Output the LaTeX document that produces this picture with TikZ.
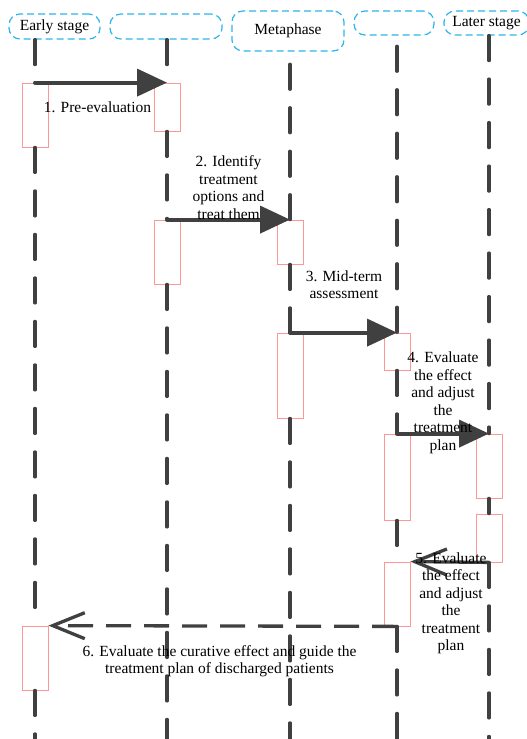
\documentclass[tikz,border=0pt]{standalone}
\usepackage{fontspec}
\setmainfont{Liberation Serif}
\usetikzlibrary{arrows.meta}
\usetikzlibrary{positioning}
\definecolor{headblue}{RGB}{45,180,235}
\definecolor{actpink}{RGB}{255,150,150}
\definecolor{lifegray}{RGB}{64,64,64}
\tikzset{stage/.style={draw=headblue, fill=white, line width=1.2pt, dash pattern=on 7pt off 4pt, rounded corners=11pt, inner sep=0pt, font=\fontsize{15.5}{17.5}\selectfont}}
\tikzset{act/.style={draw=actpink, fill=white, line width=0.8pt, minimum width=26pt, inner sep=0pt}}
\tikzset{life/.style={draw=lifegray, line width=3.3pt, dash pattern=on 25pt off 18.5pt, line cap=round}}
\tikzset{msg/.style={draw=lifegray, line width=4pt, line cap=round, -{Triangle[length=30pt,width=27pt]}}}
\tikzset{back/.style={draw=lifegray, line width=3.3pt, -{Straight Barb[length=32pt,width=26pt]}}}
\tikzset{lbl/.style={align=center, inner sep=0pt, font=\fontsize{15.5}{17.5}\selectfont}}

\begin{document}
\begin{tikzpicture}[x=1pt,y=-1pt]
\useasboundingbox (0,0) rectangle (527,739);

%stages
\node[stage,minimum width=91pt,minimum height=25pt] (early) at (54.5,26.5) {Early stage};
\node[stage,minimum width=112pt,minimum height=25pt] (stageb) at (166,26.5) {};
\node[stage,minimum width=112pt,minimum height=40pt] (meta) at (288,31) {Metaphase};
\node[stage,minimum width=80pt,minimum height=24pt] (staged) at (394,23) {};
\node[stage,minimum width=85pt,minimum height=24pt] (later) at (486.5,23) {Later stage};
\coordinate (bottom) at (0,742);

%activations
\node[act,minimum height=64pt] (a1) at (35,115) {};
\node[act,minimum height=48pt] (a2) at (167,107) {};
\node[act,minimum height=64pt] (a3) at (167,252) {};
\node[act,minimum height=44pt] (a4) at (290,242) {};
\node[act,minimum height=85pt] (a5) at (290,375.5) {};
\node[act,minimum height=37pt] (a6) at (397,351.5) {};
\node[act,minimum height=86pt] (a7) at (397,477) {};
\node[act,minimum height=64pt] (a8) at (489,466) {};
\node[act,minimum height=48pt] (a9) at (489,538) {};
\node[act,minimum height=64pt] (a10) at (397,594) {};
\node[act,minimum height=64pt] (a11) at (35,658) {};

%lifelines
\path[life] (a1 |- early.south) -- (a1.north);
\path[life] (a1.south) -- (a11.north);
\path[life] (a11.south) -- (a11 |- bottom);
\path[life] (a2 |- stageb.south) -- (a2.north);
\path[life] (a2.south) -- (a3.north);
\path[life] (a3.south) -- (a3 |- bottom);
\path[life,dash phase=30.85pt] (a4 |- meta.south) -- (a4.north);
\path[life] (a4.south) -- (a5.north);
\path[life] (a5.south) -- (a5 |- bottom);
\path[life,dash phase=32.85pt] (a6 |- staged.south) -- (a6.north);
\path[life] (a6.south) -- (a7.north);
\path[life] (a7.south) -- (a10.north);
\path[life] (a10.south) -- (a10 |- bottom);
\path[life] (a8 |- later.south) -- (a8.north);
\path[life] (a8.south) -- (a9.north);
\path[life] (a9.south) -- (a9 |- bottom);

%messages
\path[msg] (a1.north) -- (a2.north);
\node[lbl] (l1) at (97.5,107) {1. Pre-evaluation};
\path[msg] (a3.north) -- (a4.north);
\node[lbl] (l2) at (228.5,187.5) {2. Identify\\treatment\\options and\\treat them};
\path[msg] (a5.north) -- (a6.north);
\node[lbl] (l3) at (344,284.5) {3. Mid-term\\assessment};
\path[msg] (a7.north) -- (a8.north);
\node[lbl] (l4) at (443,403) {4. Evaluate\\the effect\\and adjust\\the\\treatment\\plan};
\path[back] (a9.south) -- (a10.north east);
\node[lbl] (l5) at (451,603.5) {5. Evaluate\\the effect\\and adjust\\the\\treatment\\plan};
\path[back,dash pattern=on 25pt off 13pt] (a10.south) -- (a11.north east);
\node[lbl] (l6) at (219.5,661) {6. Evaluate the curative effect and guide the\\treatment plan of discharged patients};

\end{tikzpicture}
\end{document}
